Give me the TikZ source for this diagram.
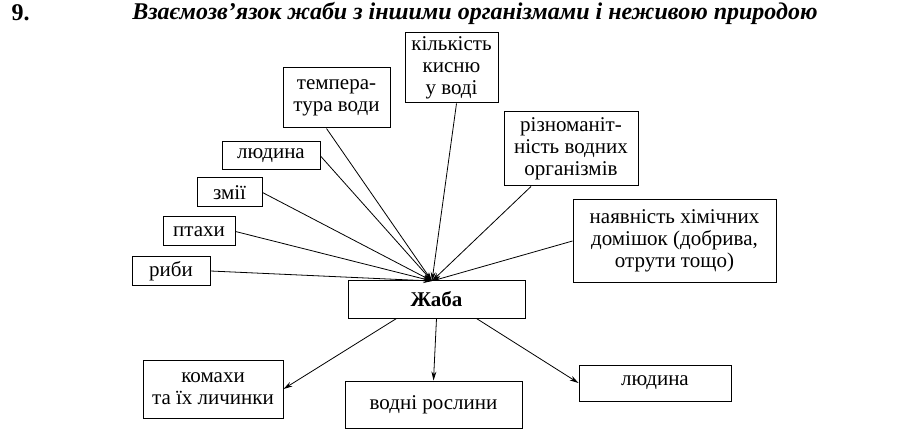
\documentclass[tikz,border=0pt]{standalone}
\usepackage{fontspec}
\setmainfont{Liberation Serif}
\usetikzlibrary{arrows.meta}
\begin{document}
\begin{tikzpicture}[x=1pt,y=-1pt,
  box/.style={draw,line width=1pt,align=center,inner sep=0pt,font=\fontsize{21}{22}\selectfont},
  con/.style={line width=0.8pt,-{Stealth[length=9pt,width=5pt]}}]
\useasboundingbox (0,0) rectangle (915,446);
\node[anchor=west,font=\fontsize{24}{26}\selectfont\bfseries] (num) at (8,13) {9.};
\node[font=\fontsize{24}{26}\selectfont\bfseries\itshape] (title) at (475,13) {Взаємозв’язок жаби з іншими організмами і неживою природою};
\newcommand\bx[6]{\node[box,minimum width=#4-#2,minimum height=#5-#3] (#1) at ({(#2+#4)/2},{(#3+#5)/2}) {#6};}
\bx{kysen}{405}{33}{498}{103}{кількість\\кисню\\у воді}
\bx{temp}{283}{68}{390}{128}{темпера-\\тура води}
\bx{riz}{504}{112}{638}{186}{різноманіт-\\ність водних\\організмів}
\bx{lud}{222}{142}{320}{170}{людина}
\bx{zmii}{197}{178}{262}{207}{змії}
\bx{ptah}{163}{217}{235}{246}{птахи}
\bx{ryby}{132}{257}{210}{285}{риби}
\bx{him}{573}{200}{776}{282}{наявність хімічних\\домішок (добрива,\\отрути тощо)}
\node[box,minimum width=177,minimum height=38,font=\fontsize{21}{22}\selectfont\bfseries] (zhaba) at (436.5,299) {Жаба};
\bx{komahy}{143}{360}{283}{418}{комахи\\та їх личинки}
\bx{rosl}{345}{381}{522}{428}{водні рослини}
\bx{lud2}{579}{365}{731}{401}{людина}
\coordinate (c) at (432,281);
\draw[con] (lud.east) -- (c);
\draw[con] (zmii.east) -- (c);
\draw[con] (ptah.east) -- (c);
\draw[con] (ryby.east) -- (c);
\draw[con] (temp.south) ++(-10,0) -- (c);
\draw[con] (kysen.south) ++(5,0) -- (c);
\draw[con] (riz.south) ++(-40,0) -- (c);
\draw[con] (him.west) -- (c);
\draw[con] (zhaba.south) ++(-40,0) -- (komahy.east);
\draw[con] (zhaba.south) -- (rosl.north);
\draw[con] (zhaba.south) ++(40,0) -- (lud2.west);
\end{tikzpicture}
\end{document}
